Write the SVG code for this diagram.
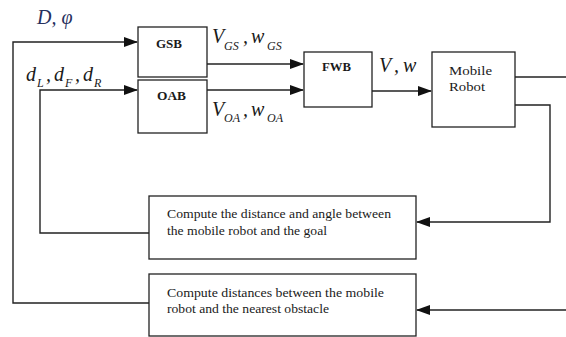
<svg xmlns="http://www.w3.org/2000/svg" width="566" height="337" viewBox="0 0 566 337">
<style>
.box{fill:#fff;stroke:#222;stroke-width:1.3}
.ln{fill:none;stroke:#222;stroke-width:1.4}
.t{font-family:"Liberation Serif","Times New Roman",serif;font-size:13px;fill:#1a1a1a}
.b{font-weight:bold;font-size:12px}
.m{font-family:"Liberation Serif","Times New Roman",serif;font-style:italic;font-size:20px;fill:#1a1a1a}
.s{font-family:"Liberation Serif","Times New Roman",serif;font-style:italic;font-size:12px;fill:#1a1a1a}
</style>
<defs>
<marker id="ah" markerWidth="14" markerHeight="10" refX="13" refY="5" orient="auto" markerUnits="userSpaceOnUse">
<path d="M0,0 L14,5 L0,10 Z" fill="#111"/>
</marker>
</defs>
<g id="connectors">
<path class="ln" d="M149,303 H13 V42 H137" marker-end="url(#ah)"/>
<path class="ln" d="M149,233 H40 V90 H137" marker-end="url(#ah)"/>
<path class="ln" d="M207,64 H303" marker-end="url(#ah)"/>
<path class="ln" d="M207,90 H303" marker-end="url(#ah)"/>
<path class="ln" d="M372,91 H431" marker-end="url(#ah)"/>
<path class="ln" d="M515,77 H566"/>
<path class="ln" d="M515,105 H550 V222 H417" marker-end="url(#ah)"/>
<path class="ln" d="M566,310 H417" marker-end="url(#ah)"/>
</g>
<g id="gsb">
<rect class="box" x="138" y="27" width="69" height="50"/>
<text class="t b" x="156" y="48" textLength="26" lengthAdjust="spacingAndGlyphs">GSB</text>
</g>
<g id="oab">
<rect class="box" x="138" y="80" width="69" height="53"/>
<text class="t b" x="157" y="100" textLength="29" lengthAdjust="spacingAndGlyphs">OAB</text>
</g>
<g id="fwb">
<rect class="box" x="304" y="52" width="68" height="55"/>
<text class="t b" x="322" y="71" textLength="29" lengthAdjust="spacingAndGlyphs">FWB</text>
</g>
<g id="robot">
<rect class="box" x="432" y="52" width="83" height="75"/>
<text class="t" x="449" y="75" textLength="43" lengthAdjust="spacingAndGlyphs">Mobile</text>
<text class="t" x="449" y="91" textLength="36" lengthAdjust="spacingAndGlyphs">Robot</text>
</g>
<g id="goal">
<rect class="box" x="149" y="196" width="267" height="63"/>
<text class="t" x="167" y="218" textLength="224" lengthAdjust="spacingAndGlyphs">Compute the distance and angle between</text>
<text class="t" x="167" y="235" textLength="160" lengthAdjust="spacingAndGlyphs">the mobile robot and the goal</text>
</g>
<g id="obstacle">
<rect class="box" x="149" y="274" width="267" height="62"/>
<text class="t" x="167" y="297" textLength="217" lengthAdjust="spacingAndGlyphs">Compute distances between the mobile</text>
<text class="t" x="167" y="313" textLength="162" lengthAdjust="spacingAndGlyphs">robot and the nearest obstacle</text>
</g>
<g id="labels">
<text class="m" x="37" y="24" style="fill:#26305e">D, φ</text>
<text class="m" x="212" y="43">V</text><text class="s" x="224" y="50">GS</text><text class="m" x="243" y="43">,</text><text class="m" x="251" y="43">w</text><text class="s" x="267" y="50">GS</text>
<text class="m" x="212" y="116">V</text><text class="s" x="224" y="122">OA</text><text class="m" x="243" y="116">,</text><text class="m" x="251" y="116">w</text><text class="s" x="267" y="122">OA</text>
<text class="m" x="379" y="72">V</text><text class="m" x="394" y="72">,</text><text class="m" x="403" y="72">w</text>
<text class="m" x="26" y="81">d</text><text class="s" x="37" y="87">L</text><text class="m" x="46" y="81">,</text><text class="m" x="54" y="81">d</text><text class="s" x="65" y="87">F</text><text class="m" x="75" y="81">,</text><text class="m" x="83" y="81">d</text><text class="s" x="94" y="87">R</text>
</g>
</svg>
